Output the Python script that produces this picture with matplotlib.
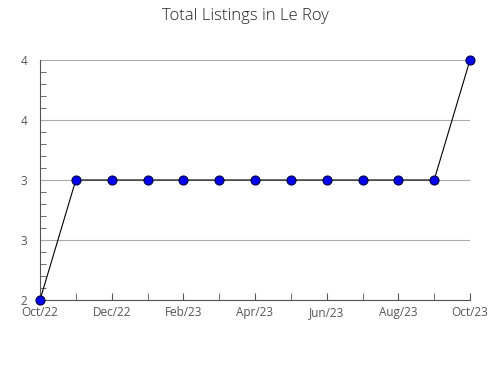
import matplotlib
matplotlib.use("Agg")
import matplotlib.pyplot as plt
from matplotlib.ticker import MultipleLocator, FixedLocator, FixedFormatter

# data
months = ["Oct/22", "Nov/22", "Dec/22", "Jan/23", "Feb/23", "Mar/23", "Apr/23",
          "May/23", "Jun/23", "Jul/23", "Aug/23", "Sep/23", "Oct/23"]
listings = [2, 3, 3, 3, 3, 3, 3, 3, 3, 3, 3, 3, 4]
y_ticks = [2, 2.5, 3, 3.5, 4]
y_tick_labels = ["2", "3", "3", "4", "4"]

plt.rcParams["font.family"] = ["Open Sans", "DejaVu Sans"]

fig = plt.figure(figsize=(4.9, 3.8), dpi=100)
ax = fig.add_axes([40 / 490, 80 / 380, 430 / 490, 240 / 380])

x = list(range(len(months)))
ax.plot(x, listings, color="black", lw=0.8, zorder=3,
        marker="o", markersize=6.5, markerfacecolor="#0000ee",
        markeredgecolor="#000044", markeredgewidth=0.8, clip_on=False)

ax.set_xlim(0, len(months) - 1)
ax.set_ylim(min(y_ticks), max(y_ticks))

ax.xaxis.set_major_locator(FixedLocator(x[::2]))
ax.xaxis.set_major_formatter(FixedFormatter(months[::2]))
ax.xaxis.set_minor_locator(MultipleLocator(1))
ax.yaxis.set_major_locator(FixedLocator(y_ticks))
ax.yaxis.set_major_formatter(FixedFormatter(y_tick_labels))
ax.yaxis.set_minor_locator(MultipleLocator(0.1))

ax.tick_params(axis="both", which="both", direction="in", colors="#555555",
               labelsize=8.5, labelcolor="#555555")
ax.tick_params(axis="x", which="major", length=5, pad=11.5)
ax.tick_params(axis="x", which="minor", length=5)
ax.tick_params(axis="y", which="major", length=0, pad=9)
ax.tick_params(axis="y", which="minor", length=4)
for lbl in ax.get_xticklabels():
    lbl.set_verticalalignment("baseline")

ax.grid(True, axis="y", color="#aaaaaa", lw=0.8)
ax.set_axisbelow(True)
for s in ["top", "right"]:
    ax.spines[s].set_visible(False)
for s in ["left", "bottom"]:
    ax.spines[s].set_color("#555555")
    ax.spines[s].set_linewidth(0.8)

fig.suptitle("Total Listings in Le Roy", x=0.5, y=0.98, fontsize=12,
             color="#222222", fontweight="light")

fig.savefig("out.png", dpi=100)
